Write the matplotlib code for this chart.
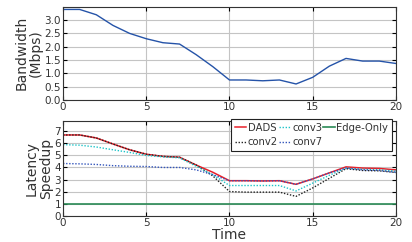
import matplotlib
matplotlib.use("Agg")
import matplotlib.pyplot as plt

time = list(range(21))
bandwidth = [3.4, 3.4, 3.2, 2.8, 2.5, 2.3, 2.15, 2.1, 1.7, 1.25, 0.75, 0.75, 0.72, 0.75, 0.6, 0.85, 1.27, 1.56, 1.46, 1.46, 1.37]

dads = [6.7, 6.7, 6.45, 5.95, 5.47, 5.1, 4.92, 4.85, 4.2, 3.6, 2.9, 2.9, 2.88, 2.9, 2.6, 3.05, 3.55, 4.05, 3.95, 3.92, 3.8]
conv2 = [6.7, 6.7, 6.45, 5.95, 5.47, 5.1, 4.92, 4.85, 4.2, 3.3, 2.0, 1.95, 1.95, 1.95, 1.6, 2.3, 3.1, 3.9, 3.75, 3.72, 3.58]
conv3 = [5.9, 5.85, 5.7, 5.47, 5.25, 5.0, 4.88, 4.8, 4.1, 3.4, 2.5, 2.5, 2.5, 2.5, 2.05, 2.7, 3.35, 3.95, 3.85, 3.82, 3.7]
conv7 = [4.33, 4.3, 4.25, 4.15, 4.1, 4.08, 4.0, 4.0, 3.8, 3.4, 2.9, 2.9, 2.88, 2.9, 2.6, 3.05, 3.55, 3.95, 3.8, 3.75, 3.6]
edge_only = [1.0] * 21

fig = plt.figure(figsize=(4.12, 2.42), dpi=100)
ax1 = fig.add_axes([0.153, 0.587, 0.808, 0.385])
ax2 = fig.add_axes([0.153, 0.109, 0.808, 0.393])

for ax in (ax1, ax2):
    ax.grid(True, color="#c4c4c4", linewidth=0.8)
    ax.set_axisbelow(True)
    ax.tick_params(direction="in", top=True, right=True, labelsize=7.5, pad=1.5, length=3,
                   labelcolor="#333333")
    ax.set_xlim(0, 20)
    ax.set_xticks([0, 5, 10, 15, 20])
    for s in ax.spines.values():
        s.set_color("#333333")

ax1.plot(time, bandwidth, color="#2553a8", linewidth=1.0)
ax1.set_ylim(0, 3.5)
ax1.set_yticks([0.0, 0.5, 1.0, 1.5, 2.0, 2.5, 3.0])
ax1.set_yticklabels(["0.0", "0.5", "1.0", "1.5", "2.0", "2.5", "3.0"])
ax1.set_ylabel("Bandwidth\n(Mbps)", fontsize=10, labelpad=1, linespacing=1.0, color="#333333")

ax2.plot(time, dads, color="#e8202a", linewidth=1.1, label="DADS")
ax2.plot(time, conv2, color="#222222", linewidth=1.0, linestyle=(0, (1, 1.2)), label="conv2")
ax2.plot(time, conv3, color="#1fc4c8", linewidth=1.0, linestyle=(0, (1, 1.2)), label="conv3")
ax2.plot(time, conv7, color="#3355bb", linewidth=1.0, linestyle=(0, (1, 1.2)), label="conv7")
ax2.plot(time, edge_only, color="#2a8a55", linewidth=1.2, label="Edge-Only")
ax2.set_ylim(0, 7.9)
ax2.set_yticks(range(8))
ax2.set_ylabel("Latency\nSpeedup", fontsize=10, labelpad=1, linespacing=1.0, color="#333333")
ax2.set_xlabel("Time", fontsize=10, labelpad=0, color="#333333")

leg = ax2.legend(ncol=3, loc="upper right", bbox_to_anchor=(0.993, 1.035), fontsize=7.2,
                 handlelength=1.15, handletextpad=0.15, columnspacing=0.1,
                 borderpad=0.35, labelspacing=0.45, fancybox=False, framealpha=1.0,
                 borderaxespad=0.2)
leg.get_frame().set_edgecolor("#222222")
leg.get_frame().set_linewidth(0.8)
for t in leg.get_texts():
    t.set_color("#333333")

fig.savefig("out.png", dpi=100)
